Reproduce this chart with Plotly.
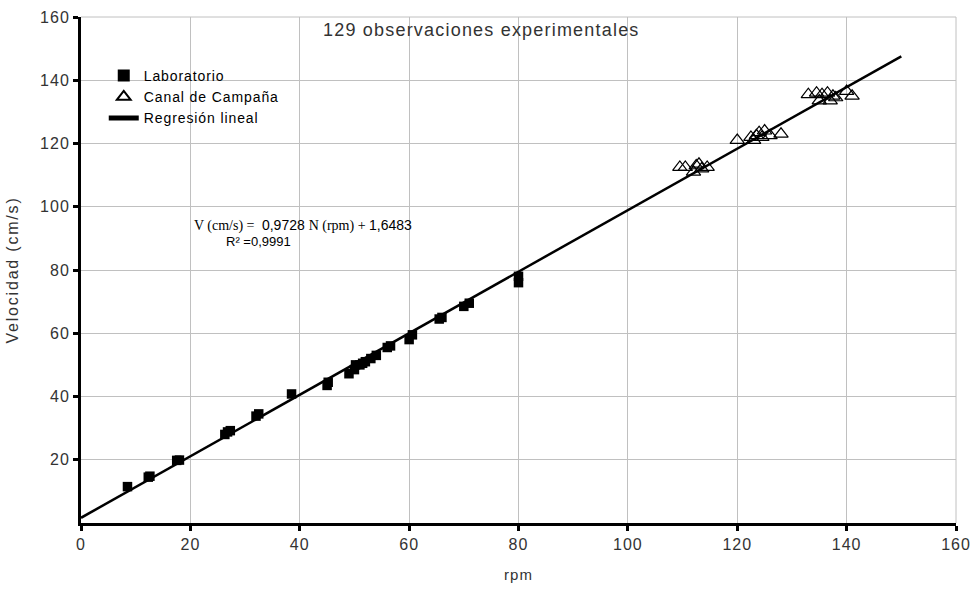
import plotly.graph_objects as go

# Laboratorio (rpm, cm/s)
lab_rpm = [8.5, 12.3, 12.6, 17.5, 18.0, 26.3, 26.8, 27.3, 32.0, 32.5, 38.5,
           45.0, 45.2, 49.0, 50.0, 50.2, 51.0, 51.5, 52.0, 53.0, 54.0,
           56.0, 56.6, 60.0, 60.6, 65.5, 66.0, 70.0, 71.0, 80.0, 80.0]
lab_vel = [11.5, 14.5, 14.8, 19.8, 19.9, 28.0, 28.8, 29.2, 33.8, 34.5, 40.8,
           43.5, 44.5, 47.2, 48.5, 50.0, 50.0, 50.5, 51.0, 52.0, 53.0,
           55.5, 56.0, 58.0, 59.5, 64.5, 65.0, 68.5, 69.5, 76.0, 78.0]

# Canal de Campaña (rpm, cm/s)
campo_rpm = [109.5, 110.5, 112.0, 112.5, 113.0, 113.5, 114.5,
             120.0, 122.5, 123.0, 123.5, 124.0, 124.5, 125.0, 126.0, 128.0,
             133.0, 134.5, 135.0, 135.5, 136.5, 137.0, 137.5, 138.0, 140.0, 141.0]
campo_vel = [112.5, 112.5, 111.0, 113.0, 113.5, 112.0, 112.5,
             121.0, 122.0, 121.0, 122.5, 123.5, 122.0, 124.0, 122.5, 123.0,
             135.5, 136.0, 133.5, 135.5, 136.0, 133.5, 135.0, 134.5, 136.5, 135.0]

# Regression line
slope = 0.9728
intercept = 1.6483
reg_rpm = [0, 150]
reg_vel = [slope * x + intercept for x in reg_rpm]

x_ticks = [0, 20, 40, 60, 80, 100, 120, 140, 160]
y_ticks = [20, 40, 60, 80, 100, 120, 140, 160]


def sp(text, ls=1):
    return f"<span style='letter-spacing:{ls}px'>{text}</span>"


fig = go.Figure()
fig.add_trace(go.Scatter(x=reg_rpm, y=reg_vel, mode="lines", name=sp("Regresión lineal", 0.9),
                         line=dict(color="black", width=2.5), showlegend=True, legendrank=3))
fig.add_trace(go.Scatter(x=lab_rpm, y=lab_vel, mode="markers", name=sp("Laboratorio", 0.9),
                         marker=dict(symbol="square", size=9.5, color="black"), legendrank=1))
fig.add_trace(go.Scatter(x=campo_rpm, y=campo_vel, mode="markers", name=sp("Canal de Campaña", 0.9),
                         marker=dict(symbol="triangle-up-open", size=12.5, color="black",
                                     line=dict(width=1.2, color="black")), legendrank=2))

font_sans = "Liberation Sans, Arial, sans-serif"

eq_text = ("<span style=\"font-family:'Liberation Serif'\">V (cm/s) = </span> 0,9728 "
           "<span style=\"font-family:'Liberation Serif'\">N (rpm) + </span>1,6483")

fig.update_layout(
    width=974, height=599,
    margin=dict(l=81, r=18, t=17, b=76),
    paper_bgcolor="white", plot_bgcolor="white",
    font=dict(family=font_sans, size=13, color="#222"),
    showlegend=True,
    legend=dict(x=0.026, y=0.915, xanchor="left", yanchor="top",
                bgcolor="rgba(0,0,0,0)", font=dict(size=14, color="black"),
                itemsizing="constant", tracegroupgap=0),
    xaxis=dict(range=[0, 160], tickvals=x_ticks, ticktext=[sp(str(v)) for v in x_ticks],
               showgrid=True, gridcolor="#c0c0c0",
               gridwidth=1, showline=True, linecolor="black", linewidth=3,
               ticks="outside", ticklen=5, tickwidth=3, tickcolor="black",
               zeroline=False, tickfont=dict(size=16, color="#333"), automargin=False,
               title=dict(text=sp("rpm"), font=dict(size=15, color="#333"), standoff=18)),
    yaxis=dict(range=[0, 160], tickvals=y_ticks, ticktext=[sp(str(v)) for v in y_ticks],
               showgrid=True, gridcolor="#c0c0c0",
               gridwidth=1, showline=True, linecolor="black", linewidth=3,
               ticks="outside", ticklen=5, tickwidth=3, tickcolor="black",
               zeroline=False, tickfont=dict(size=16, color="#333"), automargin=False,
               title=dict(text=sp("Velocidad (cm/s)", 1.8), font=dict(size=16, color="#333"),
                          standoff=18)),
    shapes=[
        dict(type="line", xref="paper", yref="paper", x0=0, x1=1, y0=1, y1=1,
             line=dict(color="#c0c0c0", width=1)),
        dict(type="line", xref="paper", yref="paper", x0=1, x1=1, y0=0, y1=1,
             line=dict(color="#c0c0c0", width=1)),
    ],
    annotations=[
        dict(text=sp("129 observaciones experimentales", 1.2), xref="x", yref="y", x=73.2, y=155.9,
             showarrow=False, font=dict(size=18, color="#333", family=font_sans)),
        dict(text=eq_text, xref="x", yref="y", x=20.3, y=94.2,
             xanchor="left", showarrow=False,
             font=dict(size=14, color="black", family=font_sans)),
        dict(text="R² =0,9991", xref="x", yref="y", x=26.2, y=88.9, xanchor="left",
             showarrow=False, font=dict(size=13, color="black", family=font_sans)),
    ],
)

fig.write_html("out.html", post_script="document.body.style.margin='0px';",
               config={"displayModeBar": False})
